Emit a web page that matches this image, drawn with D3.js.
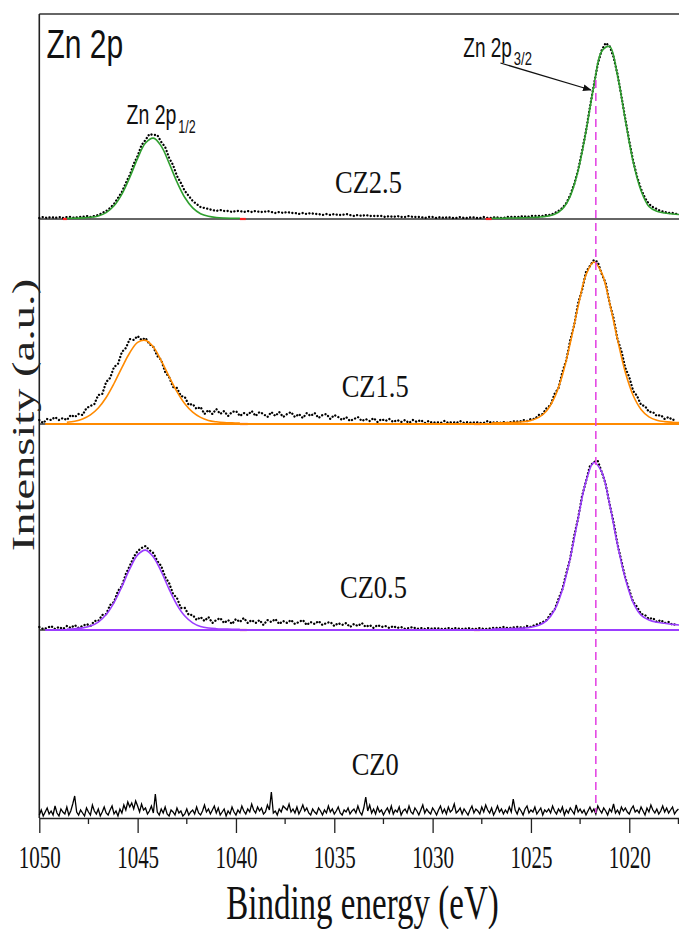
<!DOCTYPE html>
<html>
<head>
<meta charset="utf-8">
<script src="https://cdn.jsdelivr.net/npm/d3@7"></script>
<style>
  body { margin: 0; background: #fff; }
  svg { display: block; }
</style>
</head>
<body>
<svg id="chart" width="679" height="929"></svg>
<script>
// ---- Zn 2p XPS spectra, one trace per sample, stacked ----
const samples = ["CZ0", "CZ0.5", "CZ1.5", "CZ2.5"];
const offsets = [0, 188, 394, 599];          // stacking offset of each trace (a.u.)

// acquisition grids: 1050 eV downwards (0.2 eV steps; 0.1 eV for the bare sample)
const eStart = 1050, eStep = 0.2, nPoints = 163;
const energies = d3.range(nPoints).map(i => +(eStart - i * eStep).toFixed(1));
const eStepFine = 0.1, nPointsFine = 326;
const energiesFine = d3.range(nPointsFine).map(i => +(eStart - i * eStepFine).toFixed(1));

// measured intensities (a.u., above each trace's baseline)
const cz0 = [3,8,2,6,10,4,7,3,12,5,2,9,6,4,11,3,7,14,22,6,
  3,8,5,2,10,6,3,13,7,4,9,2,6,11,5,3,8,12,4,7,
  2,9,5,13,8,16,11,15,9,17,12,6,14,8,10,4,7,12,5,24,
  6,3,9,5,11,4,2,8,6,3,10,5,7,2,4,9,3,6,8,4,
  11,5,3,7,13,6,9,4,8,12,5,10,3,6,9,2,7,4,11,6,
  3,8,5,12,7,4,9,6,14,8,5,11,7,10,4,6,13,8,26,5,
  7,3,9,6,12,10,8,14,6,9,5,11,4,8,13,7,10,5,3,9,
  6,4,10,7,3,8,5,12,6,9,4,7,11,5,3,8,6,10,4,7,
  9,5,12,6,3,10,21,7,13,5,9,4,11,6,8,3,7,10,5,12,
  4,8,6,11,3,7,9,5,12,6,4,10,7,3,8,13,5,9,6,4,
  10,7,3,8,12,5,9,4,11,6,8,14,5,7,10,4,9,6,3,8,
  12,5,9,7,4,11,6,13,8,5,10,3,7,12,6,9,4,8,5,11,
  6,19,8,4,10,7,3,9,12,5,8,6,11,4,7,10,3,8,6,9,
  5,12,7,4,9,6,11,3,8,5,10,7,4,13,6,9,5,8,3,7,
  11,6,9,4,12,8,5,10,7,3,9,6,14,5,8,4,11,7,10,6,
  4,9,12,6,8,5,11,7,3,10,6,13,8,5,9,4,7,12,6,10,
  5,8,11,4,7,9];
const cz05 = [3,1,2,4,1,3,1,4,2,5,2,4,6,
  4,9,9,15,16,25,28,39,44,56,64,73,79,82,84,
  80,77,69,64,53,47,36,32,22,22,15,15,10,13,9,13,7,10,
  12,7,10,6,11,8,12,7,10,7,10,5,10,8,11,6,9,7,10,6,8,10,5,8,6,
  9,5,7,8,4,7,5,7,3,6,4,7,3,5,2,5,3,4,2,4,
  2,3,1,2,3,1,2,1,2,1,2,1,1,2,1,2,1,1,2,1,1,2,1,1,2,
  2,2,3,2,2,3,3,2,4,3,5,6,8,10,16,20,31,41,57,72,
  94,112,134,149,164,168,169,158,146,126,108,86,69,52,
  40,28,23,16,15,11,12,8,10,7,8,5,6];
const cz15 = [4,1,5,4,7,4,6,4,9,7,
  10,9,16,18,20,29,30,42,46,57,
  60,72,76,85,84,88,84,86,80,77,
  68,64,52,47,37,36,28,27,19,20,
  15,17,10,14,10,15,10,13,8,12,
  13,8,11,9,13,8,12,10,7,12,
  8,12,7,10,12,7,10,6,11,8,
  11,6,9,10,5,9,
  7,4,7,3,5,7,3,5,3,6,2,5,3,5,2,4,2,4,1,4,2,4,1,3,1,
  2,1,3,1,2,1,3,1,2,1,2,1,1,3,1,2,1,2,1,2,3,2,4,3,5,
  5,9,10,16,19,30,36,52,64,84,99,121,134,152,158,164,162,150,141,121,106,85,
  73,56,47,33,28,19,18,12,12,8,9,5,7,4,5];
const cz25 = [1,2,1,2,1,2,1,2,2,1,2,2,3,2,3,4,
  6,8,11,15,21,27,36,44,55,63,74,79,85,84,84,77,72,61,54,43,
  36,28,23,18,15,12,11,10,9,8,9,8,8,7,8,8,7,8,7,8,
  7,7,8,7,6,7,6,7,6,6,5,6,5,6,5,
  5,4,5,4,5,4,4,5,4,3,4,3,4,3,3,3,
  3,2,3,2,3,2,2,3,2,2,2,1,2,2,1,2,1,2,1,
  1,2,1,1,2,1,1,2,1,1,2,1,1,2,2,2,2,3,2,3,3,3,3,4,4,
  6,8,11,16,24,35,49,68,88,112,134,155,169,176,173,
  162,145,123,100,78,58,42,30,21,15,12,10,8,7,6,6,5];

// fitted peak envelopes: Zn 2p1/2 window and Zn 2p3/2 window
const fitEnergiesLow = [1048.6,1048.2,1047.8,1047.4,1047.0,1046.6,1046.2,1045.8,1045.4,1045.0,
  1044.6,1044.2,1043.8,1043.4,1043.0,1042.6,1042.2,1041.8,1041.4,1041.0,1040.6,1040.2,1039.8];
const fitEnergiesHigh = [1027.0,1026.6,1026.2,1025.8,1025.4,1025.0,1024.6,1024.2,1023.8,1023.4,
  1023.0,1022.6,1022.2,1021.8,1021.4,1021.0,1020.6,1020.2,1019.8,1019.4,1019.0,1018.6,1018.2,1017.8,1017.4];
const fitLowCZ05 = [0.9,1.3,2.1,4.0,7.9,15.4,27.4,43.4,61.1,75.1,79.9,73.1,58.5,40.9,25.2,14.0,7.2,3.6,2.0,1.3,1.0,0.8,0.7];
const fitHighCZ05 = [0.9,1.1,1.3,1.5,1.9,2.7,4.7,9.4,20.0,40.3,72.1,111.7,148.7,167.5,158.1,125.8,85.5,51.4,27.4,14.9,9.9,7.7,6.7,5.6,4.8];
const fitLowCZ15 = [1.8,2.8,5.0,9.1,16.0,26.5,40.5,56.4,71.3,81.6,83.6,76.9,63.4,47.5,32.4,20.2,11.8,6.6,3.6,2.2,1.4,1.1,0.9];
const fitHighCZ15 = [1.0,1.2,1.4,1.7,2.3,3.6,6.6,13.3,26.6,48.8,81.0,117.6,149.2,162.0,151.1,121.2,84.6,51.7,28.5,14.6,7.1,3.8,2.4,1.8,1.4];
const fitLowCZ25 = [0.7,0.8,1.1,1.7,3.1,6.4,13.2,24.9,41.6,60.7,76.0,80.9,72.9,55.9,37.1,21.5,11.1,5.3,2.7,1.5,1.0,0.8,0.7];
const fitHighCZ25 = [0.7,0.8,0.9,1.0,1.2,1.5,1.9,2.7,4.7,10.1,22.9,48.5,87.5,133.2,167.8,172.4,143.7,98.9,56.9,28.2,12.5,7.7,6.0,5.0,4.5];

// ends of the background windows
const bgEndsCZ05 = [[1039.8, 1039.45], [1027.9, 1027.6]];
const bgEndsCZ15 = [[1039.8, 1039.4], [1027.9, 1027.55]];
const bgEndsCZ25 = [[1048.8, 1048.6], [1039.8, 1039.5], [1027.3, 1027.0]];

// axis ticks and reference line
const majorTicks = [1050, 1045, 1040, 1035, 1030, 1025, 1020];
const minorTicks = [1047.5, 1042.5, 1037.5, 1032.5, 1027.5, 1022.5, 1017.5];
const zn2p32Energy = 1021.7;

// ---- scales ----
const x = d3.scaleLinear().domain([1050, 1016.5]).range([39.3, 698.1]);
const y = d3.scaleLinear().domain([0, 804]).range([818, 14]);

const svg = d3.select("#chart");

const traces = [
  { name: samples[0], data: cz0, grid: energiesFine, offset: offsets[0] },
  { name: samples[1], data: cz05, grid: energies, offset: offsets[1], fitLow: fitLowCZ05, fitHigh: fitHighCZ05, bgEnds: bgEndsCZ05, color: "#9b3dff", fullBase: true },
  { name: samples[2], data: cz15, grid: energies, offset: offsets[2], fitLow: fitLowCZ15, fitHigh: fitHighCZ15, bgEnds: bgEndsCZ15, color: "#ff8a00", fullBase: true },
  { name: samples[3], data: cz25, grid: energies, offset: offsets[3], fitLow: fitLowCZ25, fitHigh: fitHighCZ25, bgEnds: bgEndsCZ25, color: "#2f9f2f", fullBase: false }
];

// ---- frame: top border, trace baselines, left spine ----
const frame = svg.append("g");
[offsets[1], offsets[2], offsets[3], 804].forEach(v => {
  frame.append("line")
    .attr("x1", x(1050)).attr("x2", x(1016.5))
    .attr("y1", y(v)).attr("y2", y(v))
    .attr("stroke", "#333").attr("stroke-width", 1.5);
});
frame.append("line")
  .attr("x1", x(1050)).attr("x2", x(1050))
  .attr("y1", y(804)).attr("y2", y(0))
  .attr("stroke", "#222").attr("stroke-width", 1.6);

// ---- traces ----
const plot = svg.append("g");
traces.forEach(t => {
  const g = plot.append("g");
  const dataLine = d3.line().x((d, i) => x(t.grid[i])).y(d => y(d + t.offset));
  if (!t.fitLow) {
    // bare sample: plain noisy line
    g.append("path")
      .attr("d", dataLine(t.data))
      .attr("fill", "none").attr("stroke", "#000").attr("stroke-width", 1.3);
    return;
  }
  // measured points, drawn as dots along the trace
  g.append("path")
    .attr("d", dataLine(t.data))
    .attr("fill", "none").attr("stroke", "#000").attr("stroke-width", 2.3)
    .attr("stroke-linecap", "round").attr("stroke-dasharray", "0.1 3.4");
  // background window ends
  t.bgEnds.forEach(seg => {
    g.append("line")
      .attr("x1", x(seg[0])).attr("x2", x(seg[1]))
      .attr("y1", y(t.offset)).attr("y2", y(t.offset))
      .attr("stroke", "#ff2020").attr("stroke-width", 2.2);
  });
  if (t.fullBase) {
    g.append("line")
      .attr("x1", x(1049.7)).attr("x2", x(1016.5))
      .attr("y1", y(t.offset)).attr("y2", y(t.offset))
      .attr("stroke", t.color).attr("stroke-width", 2);
  }
  const fitLine = (es) => d3.line()
    .x((d, i) => x(es[i])).y(d => y(d + t.offset))
    .curve(d3.curveCatmullRom.alpha(0.5));
  g.append("path").attr("d", fitLine(fitEnergiesLow)(t.fitLow))
    .attr("fill", "none").attr("stroke", t.color).attr("stroke-width", 1.6);
  g.append("path").attr("d", fitLine(fitEnergiesHigh)(t.fitHigh))
    .attr("fill", "none").attr("stroke", t.color).attr("stroke-width", 1.6);
});

// ---- Zn 2p3/2 reference line ----
svg.append("line")
  .attr("x1", x(zn2p32Energy)).attr("x2", x(zn2p32Energy))
  .attr("y1", y(738)).attr("y2", y(5))
  .attr("stroke", "#e23ee2").attr("stroke-width", 1.5)
  .attr("stroke-dasharray", "8 5");

// ---- x axis ----
const axisG = svg.append("g").attr("transform", `translate(0,${y(0)})`);
axisG.call(d3.axisBottom(x).tickValues(majorTicks).tickSize(15).tickSizeOuter(0).tickFormat(d3.format("d")));
axisG.select(".domain").attr("stroke", "#222").attr("stroke-width", 1.6);
axisG.selectAll(".tick line").attr("stroke", "#222").attr("stroke-width", 1.3);
axisG.selectAll(".tick text")
  .attr("y", null).attr("dy", null)
  .attr("transform", "translate(0,50) scale(1,1.5)")
  .attr("font-family", "'Liberation Serif', 'Times New Roman', serif")
  .attr("font-size", 21).attr("fill", "#111");
minorTicks.forEach(v => {
  axisG.append("line")
    .attr("x1", x(v)).attr("x2", x(v)).attr("y1", 0).attr("y2", 6)
    .attr("stroke", "#222").attr("stroke-width", 1.3);
});

// ---- text ----
const serif = "'Liberation Serif', 'Times New Roman', serif";
const sans = "'Liberation Sans', Arial, sans-serif";

function label(str, px, py, size, family, sy, anchor) {
  return svg.append("text")
    .attr("transform", `translate(${px},${py}) scale(1,${sy})`)
    .attr("font-family", family).attr("font-size", size)
    .attr("text-anchor", anchor || "start").attr("fill", "#111")
    .text(str);
}

label("Binding energy (eV)", 362.5, 919.3, 33, serif, 1.45, "middle");

svg.append("text")
  .attr("transform", "translate(34,415) rotate(-90) scale(1.5,1)")
  .attr("font-family", serif).attr("font-size", 31)
  .attr("text-anchor", "middle").attr("fill", "#222")
  .text("Intensity (a.u.)");

label("Zn 2p", 46.5, 58, 30, sans, 1.35);

const sub12 = label("Zn 2p", 126.5, 124, 19.5, sans, 1.43);
sub12.append("tspan").attr("font-size", 12.5).attr("dx", 2).attr("dy", 6).text("1/2");

const sub32 = label("Zn 2p", 463.3, 56.7, 19, sans, 1.43);
sub32.append("tspan").attr("font-size", 13).attr("dx", 2).attr("dy", 6).text("3/2");

// arrow pointing at the Zn 2p3/2 peak
svg.append("defs").append("marker")
  .attr("id", "arrowHead").attr("viewBox", "0 0 10 8")
  .attr("refX", 9).attr("refY", 4)
  .attr("markerWidth", 9).attr("markerHeight", 7)
  .attr("markerUnits", "userSpaceOnUse").attr("orient", "auto")
  .append("path").attr("d", "M0,0 L10,4 L0,8 Z").attr("fill", "#111");
svg.append("line")
  .attr("x1", x(1026.55)).attr("y1", y(755))
  .attr("x2", x(1021.95)).attr("y2", y(728))
  .attr("stroke", "#111").attr("stroke-width", 1.3)
  .attr("marker-end", "url(#arrowHead)");

// sample names
const nameSpots = { "CZ2.5": [335, 193], "CZ1.5": [341.7, 397], "CZ0.5": [340, 598], "CZ0": [351.7, 775] };
samples.forEach(s => label(s, nameSpots[s][0], nameSpots[s][1], 26.5, serif, 1.2));
</script>
</body>
</html>
